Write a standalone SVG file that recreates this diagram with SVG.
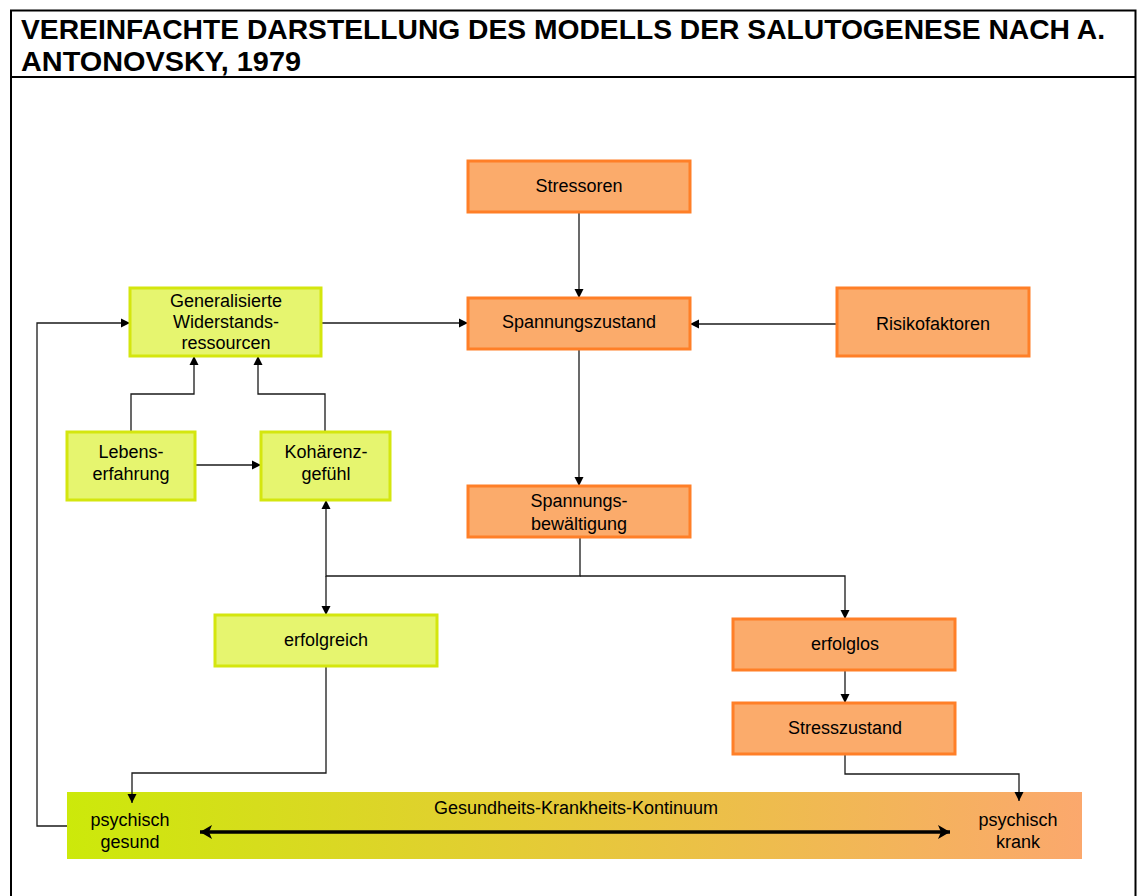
<svg xmlns="http://www.w3.org/2000/svg" width="1139" height="896" viewBox="0 0 1139 896">
<style>
.t{font-family:"Liberation Sans",Arial,sans-serif;font-size:18px;fill:#000;text-anchor:middle}
.title{font-family:"Liberation Sans",Arial,sans-serif;font-size:28px;font-weight:bold;fill:#000}
.o{fill:#FBAB6B;stroke:#FF7F27;stroke-width:3}
.g{fill:#E6F56F;stroke:#D4E60E;stroke-width:3}
.c{fill:none;stroke:#1a1a1a;stroke-width:1.3}
</style>
<defs>
<marker id="ah" markerWidth="10" markerHeight="10" refX="9" refY="5" orient="auto" markerUnits="userSpaceOnUse">
<path d="M0,0.5 L9,5 L0,9.5 Z" fill="#000"/>
</marker>
<marker id="big" markerWidth="14" markerHeight="14" refX="12" refY="7" orient="auto-start-reverse" markerUnits="userSpaceOnUse">
<path d="M0,0 L12,7 L0,14 L3,7 Z" fill="#000"/>
</marker>
<linearGradient id="grad" x1="0" y1="0" x2="1" y2="0">
<stop offset="0" stop-color="#CCE90A"/>
<stop offset="0.45" stop-color="#E4CC35"/>
<stop offset="1" stop-color="#FBA86D"/>
</linearGradient>
</defs>
<rect width="1139" height="896" fill="#fff"/>
<g id="frame">
<path d="M11,900 V10.5 H1135.5 V900" fill="none" stroke="#000" stroke-width="2"/>
<line x1="11" y1="77" x2="1135.5" y2="77" stroke="#000" stroke-width="2"/>
<text class="title" x="21" y="39" textLength="1084" lengthAdjust="spacingAndGlyphs">VEREINFACHTE DARSTELLUNG DES MODELLS DER SALUTOGENESE NACH A.</text>
<text class="title" x="21" y="71" textLength="280" lengthAdjust="spacingAndGlyphs">ANTONOVSKY, 1979</text>
</g>
<g id="continuum">
<rect x="67" y="792" width="1015" height="67" fill="url(#grad)"/>
<text class="t" x="576" y="814">Gesundheits-Krankheits-Kontinuum</text>
<text class="t" x="130" y="826">psychisch</text>
<text class="t" x="130" y="848">gesund</text>
<text class="t" x="1018" y="826">psychisch</text>
<text class="t" x="1018" y="848">krank</text>
<line x1="200" y1="832" x2="950" y2="832" stroke="#000" stroke-width="3.5" marker-start="url(#big)" marker-end="url(#big)"/>
</g>
<g id="connectors">
<path class="c" d="M579,212 V298" marker-end="url(#ah)"/>
<path class="c" d="M321,323 H468" marker-end="url(#ah)"/>
<path class="c" d="M837,324 H690" marker-end="url(#ah)"/>
<path class="c" d="M579,349 V486" marker-end="url(#ah)"/>
<path class="c" d="M131,432 V394 H194 V356" marker-end="url(#ah)"/>
<path class="c" d="M325,432 V394 H258 V356" marker-end="url(#ah)"/>
<path class="c" d="M195,465 H261" marker-end="url(#ah)"/>
<path class="c" d="M580,537 V576 H326 V500" marker-end="url(#ah)"/>
<path class="c" d="M326,576 V615" marker-end="url(#ah)"/>
<path class="c" d="M580,576 H845 V619" marker-end="url(#ah)"/>
<path class="c" d="M845,670 V703" marker-end="url(#ah)"/>
<path class="c" d="M845,754 V774 H1019 V801" marker-end="url(#ah)"/>
<path class="c" d="M326,666 V773 H132 V803" marker-end="url(#ah)"/>
<path class="c" d="M67,826 H37 V323 H130" marker-end="url(#ah)"/>
</g>
<g id="stressoren"><rect class="o" x="468" y="161" width="222" height="51"/><text class="t" x="579" y="192">Stressoren</text></g>
<g id="spannungszustand"><rect class="o" x="468" y="298" width="222" height="51"/><text class="t" x="579" y="328">Spannungszustand</text></g>
<g id="risikofaktoren"><rect class="o" x="837" y="288" width="192" height="68"/><text class="t" x="933" y="330">Risikofaktoren</text></g>
<g id="spannungsbewaeltigung"><rect class="o" x="468" y="486" width="222" height="51"/><text class="t" x="579" y="507">Spannungs-</text><text class="t" x="579" y="530">bewältigung</text></g>
<g id="erfolglos"><rect class="o" x="733" y="619" width="222" height="51"/><text class="t" x="845" y="650">erfolglos</text></g>
<g id="stresszustand"><rect class="o" x="733" y="703" width="222" height="51"/><text class="t" x="845" y="734">Stresszustand</text></g>
<g id="gwr"><rect class="g" x="130" y="288" width="191" height="68"/><text class="t" x="226" y="307">Generalisierte</text><text class="t" x="226" y="328">Widerstands-</text><text class="t" x="226" y="349">ressourcen</text></g>
<g id="lebenserfahrung"><rect class="g" x="67" y="432" width="128" height="68"/><text class="t" x="131" y="458">Lebens-</text><text class="t" x="131" y="480">erfahrung</text></g>
<g id="kohaerenzgefuehl"><rect class="g" x="261" y="432" width="129" height="68"/><text class="t" x="326" y="458">Kohärenz-</text><text class="t" x="326" y="480">gefühl</text></g>
<g id="erfolgreich"><rect class="g" x="215" y="615" width="222" height="51"/><text class="t" x="326" y="646">erfolgreich</text></g>
</svg>
